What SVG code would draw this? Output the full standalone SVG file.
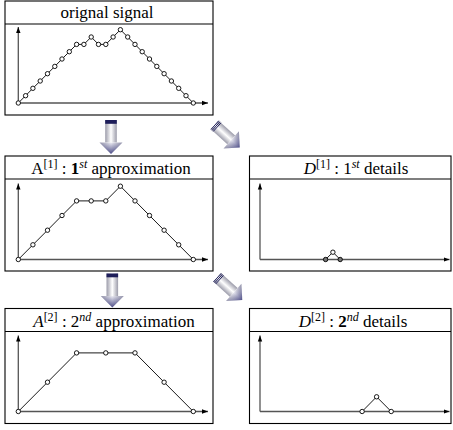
<svg xmlns="http://www.w3.org/2000/svg" width="453" height="430" viewBox="0 0 453 430">
<style>
.box{fill:#fff;stroke:#000;stroke-width:1.1}
.div{stroke:#000;stroke-width:1.1}
.ax{stroke:#555;stroke-width:1.3;fill:none}
.sig{stroke:#000;stroke-width:0.9;fill:none}
.pt{fill:#fff;stroke:#000;stroke-width:0.9}
.ptg{fill:#777;stroke:#000;stroke-width:0.9}
.t{font-family:'Liberation Serif',serif;font-size:17px;fill:#000;text-anchor:middle}
.sup{font-size:12px}
.bar{fill:#1e1e5a}
.stripe{stroke:#1e1e5a;stroke-width:0.9}
</style>
<defs>
<marker id="ah" markerUnits="userSpaceOnUse" markerWidth="8" markerHeight="8" refX="6" refY="4" orient="auto">
<path d="M0,1.8 L6,4 L0,6.2 Z" fill="#000"/>
</marker>
<linearGradient id="gs" gradientUnits="userSpaceOnUse" x1="0" y1="-5.8" x2="0" y2="5.8">
<stop offset="0" stop-color="#9c9caa"/><stop offset="0.5" stop-color="#ffffff"/><stop offset="1" stop-color="#9c9caa"/>
</linearGradient>
<linearGradient id="gh" gradientUnits="userSpaceOnUse" x1="0" y1="-11.5" x2="0" y2="11.5">
<stop offset="0" stop-color="#9a9aae"/><stop offset="0.5" stop-color="#f4f4f8"/><stop offset="1" stop-color="#9a9aae"/>
</linearGradient>
<linearGradient id="ga" gradientUnits="userSpaceOnUse" x1="22" y1="0" x2="34" y2="0">
<stop offset="0" stop-color="#3a3a7a" stop-opacity="0"/><stop offset="1" stop-color="#3a3a7a" stop-opacity="0.9"/>
</linearGradient>
<g id="barrow">
<rect x="0" y="-5.8" width="22.5" height="11.6" fill="url(#gs)"/>
<path d="M22.5,-11.5 L34,0 L22.5,11.5 Z" fill="url(#gh)"/>
<path d="M22.5,-11.5 L34,0 L22.5,11.5 Z" fill="url(#ga)"/>
</g>
<rect id="vbar" class="bar" x="0" y="-5.8" width="3.8" height="11.6"/>
<g id="stripes" class="stripe">
<line x1="0.5" y1="-5.8" x2="0.5" y2="5.8"/><line x1="2" y1="-5.8" x2="2" y2="5.8"/><line x1="3.5" y1="-5.8" x2="3.5" y2="5.8"/>
</g>
</defs>

<g id="orig">
<rect class="box" x="5" y="1" width="208" height="114"/>
<line class="div" x1="5" y1="24" x2="213" y2="24"/>
<text class="t" x="107" y="18">orignal signal</text>
<line class="ax" x1="18.3" y1="103" x2="18.3" y2="27" marker-end="url(#ah)"/>
<line class="ax" x1="18.3" y1="103" x2="208" y2="103" marker-end="url(#ah)"/>
<polyline class="sig" points="18.3,103 25.6,95.7 32.9,88.3 40.2,81 47.5,73.7 54.8,66.4 62,59 69.3,51.7 76.6,44.4 83.9,44.4 91.2,37 98.5,44.4 105.8,44.4 113.1,37 120.4,29.7 127.7,37 135,44.4 142.2,51.7 149.5,59 156.8,66.4 164.1,73.7 171.4,81 178.7,88.3 186,95.7 193.3,103"/>
<g class="pt">
<circle cx="18.3" cy="103" r="2.2"/><circle cx="25.6" cy="95.7" r="2.2"/><circle cx="32.9" cy="88.3" r="2.2"/><circle cx="40.2" cy="81" r="2.2"/><circle cx="47.5" cy="73.7" r="2.2"/><circle cx="54.8" cy="66.4" r="2.2"/><circle cx="62" cy="59" r="2.2"/><circle cx="69.3" cy="51.7" r="2.2"/><circle cx="76.6" cy="44.4" r="2.2"/><circle cx="83.9" cy="44.4" r="2.2"/><circle cx="91.2" cy="37" r="2.2"/><circle cx="98.5" cy="44.4" r="2.2"/><circle cx="105.8" cy="44.4" r="2.2"/><circle cx="113.1" cy="37" r="2.2"/><circle cx="120.4" cy="29.7" r="2.2"/><circle cx="127.7" cy="37" r="2.2"/><circle cx="135" cy="44.4" r="2.2"/><circle cx="142.2" cy="51.7" r="2.2"/><circle cx="149.5" cy="59" r="2.2"/><circle cx="156.8" cy="66.4" r="2.2"/><circle cx="164.1" cy="73.7" r="2.2"/><circle cx="171.4" cy="81" r="2.2"/><circle cx="178.7" cy="88.3" r="2.2"/><circle cx="186" cy="95.7" r="2.2"/><circle cx="193.3" cy="103" r="2.2"/>
</g>
</g>

<g id="a1">
<rect class="box" x="5" y="156" width="208" height="115"/>
<line class="div" x1="5" y1="179" x2="213" y2="179"/>
<text class="t" x="111" y="174">A<tspan class="sup" dy="-6">[1]</tspan><tspan dy="6"> : </tspan><tspan font-weight="bold">1</tspan><tspan class="sup" font-style="italic" dy="-6">st</tspan><tspan dy="6"> approximation</tspan></text>
<line class="ax" x1="18.3" y1="259.5" x2="18.3" y2="183.5" marker-end="url(#ah)"/>
<line class="ax" x1="18.3" y1="259.5" x2="208" y2="259.5" marker-end="url(#ah)"/>
<polyline class="sig" points="18.3,259.5 32.9,244.8 47.5,230.2 62,215.5 76.6,200.9 91.2,200.9 105.8,200.9 120.4,186.2 135,200.9 149.5,215.5 164.1,230.2 178.7,244.8 193.3,259.5"/>
<g class="pt">
<circle cx="18.3" cy="259.5" r="2.2"/><circle cx="32.9" cy="244.8" r="2.2"/><circle cx="47.5" cy="230.2" r="2.2"/><circle cx="62" cy="215.5" r="2.2"/><circle cx="76.6" cy="200.9" r="2.2"/><circle cx="91.2" cy="200.9" r="2.2"/><circle cx="105.8" cy="200.9" r="2.2"/><circle cx="120.4" cy="186.2" r="2.2"/><circle cx="135" cy="200.9" r="2.2"/><circle cx="149.5" cy="215.5" r="2.2"/><circle cx="164.1" cy="230.2" r="2.2"/><circle cx="178.7" cy="244.8" r="2.2"/><circle cx="193.3" cy="259.5" r="2.2"/>
</g>
</g>

<g id="d1">
<rect class="box" x="249.5" y="156" width="201.5" height="115"/>
<line class="div" x1="249.5" y1="179" x2="451" y2="179"/>
<text class="t" x="356" y="174"><tspan font-style="italic">D</tspan><tspan class="sup" dy="-6">[1]</tspan><tspan dy="6"> : 1</tspan><tspan class="sup" font-style="italic" dy="-6">st</tspan><tspan dy="6"> details</tspan></text>
<line class="ax" x1="260" y1="259.5" x2="260" y2="183.5" marker-end="url(#ah)"/>
<line class="ax" x1="260" y1="259.5" x2="449.5" y2="259.5" marker-end="url(#ah)"/>
<polyline class="sig" points="325.6,259.5 332.9,252.2 340.2,259.5"/>
<circle class="ptg" cx="325.6" cy="259.5" r="2.2"/><circle class="pt" cx="332.9" cy="252.2" r="2.2"/><circle class="ptg" cx="340.2" cy="259.5" r="2.2"/>
</g>

<g id="a2">
<rect class="box" x="5" y="308.5" width="208" height="115"/>
<line class="div" x1="5" y1="331.5" x2="213" y2="331.5"/>
<text class="t" x="114" y="326.5"><tspan font-style="italic">A</tspan><tspan class="sup" dy="-6">[2]</tspan><tspan dy="6"> : 2</tspan><tspan class="sup" font-style="italic" dy="-6">nd</tspan><tspan dy="6"> approximation</tspan></text>
<line class="ax" x1="18.3" y1="411.5" x2="18.3" y2="335.5" marker-end="url(#ah)"/>
<line class="ax" x1="18.3" y1="411.5" x2="208" y2="411.5" marker-end="url(#ah)"/>
<polyline class="sig" points="18.3,411.5 47.5,382.2 76.6,352.9 105.8,352.9 135,352.9 164.1,382.2 193.3,411.5"/>
<g class="pt">
<circle cx="18.3" cy="411.5" r="2.2"/><circle cx="47.5" cy="382.2" r="2.2"/><circle cx="76.6" cy="352.9" r="2.2"/><circle cx="105.8" cy="352.9" r="2.2"/><circle cx="135" cy="352.9" r="2.2"/><circle cx="164.1" cy="382.2" r="2.2"/><circle cx="193.3" cy="411.5" r="2.2"/>
</g>
</g>

<g id="d2">
<rect class="box" x="249.5" y="308.5" width="201.5" height="115"/>
<line class="div" x1="249.5" y1="331.5" x2="451" y2="331.5"/>
<text class="t" x="353" y="326.5"><tspan font-style="italic">D</tspan><tspan class="sup" dy="-6">[2]</tspan><tspan dy="6"> : </tspan><tspan font-weight="bold">2</tspan><tspan class="sup" font-style="italic" dy="-6">nd</tspan><tspan dy="6"> details</tspan></text>
<line class="ax" x1="260" y1="411.5" x2="260" y2="335.5" marker-end="url(#ah)"/>
<line class="ax" x1="260" y1="411.5" x2="449.5" y2="411.5" marker-end="url(#ah)"/>
<polyline class="sig" points="362.1,411.5 376.6,396.8 391.2,411.5"/>
<g class="pt">
<circle cx="362.1" cy="411.5" r="2.2"/><circle cx="376.6" cy="396.8" r="2.2"/><circle cx="391.2" cy="411.5" r="2.2"/>
</g>
</g>

<g id="connectors">
<g transform="translate(111,120) rotate(90)"><use href="#barrow"/><use href="#vbar"/></g>
<g transform="translate(112.3,273.5) rotate(90)"><use href="#barrow"/><use href="#vbar"/></g>
<g transform="translate(214.5,124.8) rotate(42)"><use href="#barrow"/><use href="#stripes"/></g>
<g transform="translate(217,277.3) rotate(42)"><use href="#barrow"/><use href="#stripes"/></g>
</g>
</svg>
